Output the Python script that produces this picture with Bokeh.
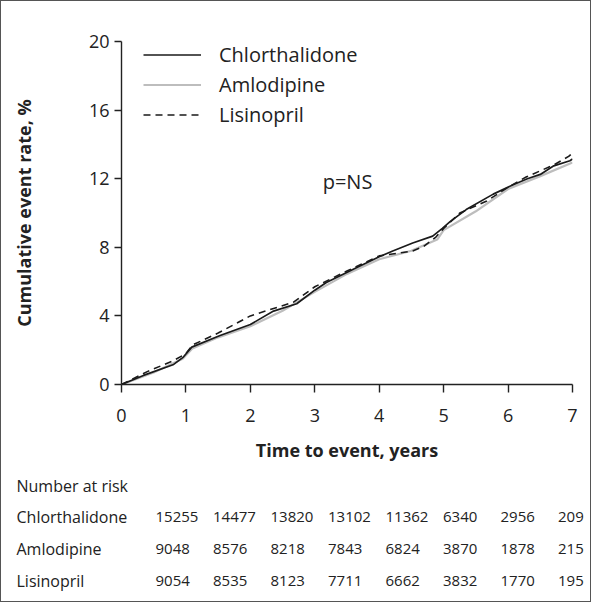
from bokeh.plotting import figure
from bokeh.layouts import column
from bokeh.models import Range1d, FixedTicker, Label, Legend, LegendItem, ColumnDataSource
from bokeh.core.properties import value
from bokeh.embed import file_html
from bokeh.resources import INLINE

# ---------------- data ----------------
years_ticks = [0, 1, 2, 3, 4, 5, 6, 7]
rate_ticks = [0, 4, 8, 12, 16, 20]

chlor_t = [0, 0.34, 0.81, 0.96, 1.09, 1.53, 2.0, 2.36, 2.72, 3.0, 3.18, 3.59, 4.0, 4.21,
           4.52, 4.83, 4.98, 5.1, 5.35, 5.77, 6.08, 6.3, 6.5, 6.71, 6.96, 7.0]
chlor_y = [0, 0.53, 1.17, 1.6, 2.18, 2.86, 3.5, 4.28, 4.71, 5.5, 5.95, 6.7, 7.45, 7.78,
           8.25, 8.65, 9.1, 9.5, 10.2, 11.1, 11.65, 12.0, 12.25, 12.75, 13.05, 13.15]

amlo_t = [0, 0.5, 0.95, 1.1, 1.5, 2.0, 2.5, 3.0, 3.5, 4.0, 4.5, 4.9, 5.0, 5.5, 6.0, 6.5, 7.0]
amlo_y = [0, 0.7, 1.5, 2.1, 2.75, 3.4, 4.3, 5.4, 6.45, 7.3, 7.8, 8.45, 9.0, 10.1, 11.4, 12.15, 12.95]

lisi_t = [0, 0.4, 0.81, 1.0, 1.1, 1.5, 2.0, 2.67, 3.0, 3.49, 4.0, 4.52, 4.69, 4.88, 5.0,
          5.25, 5.67, 6.0, 6.28, 6.71, 6.94, 7.0]
lisi_y = [0, 0.75, 1.4, 1.8, 2.3, 3.0, 4.0, 4.8, 5.7, 6.6, 7.5, 7.78, 8.05, 8.6, 9.1,
          10.0, 10.7, 11.5, 12.1, 12.8, 13.3, 13.5]

groups = ["Chlorthalidone", "Amlodipine", "Lisinopril"]
risk_title = "Number at risk"
risk_chlor = [15255, 14477, 13820, 13102, 11362, 6340, 2956, 209]
risk_amlo = [9048, 8576, 8218, 7843, 6824, 3870, 1878, 215]
risk_lisi = [9054, 8535, 8123, 7711, 6662, 3832, 1770, 195]

# ---------------- layout ----------------
FONT = "Open Sans"
TXT = "#222222"
W, H = 589, 470
BL, BR, BT, BB = 120, 18, 40, 87
FW, FH = W - BL - BR, H - BT - BB
X0, X1, Y0, Y1 = 0, 7, 0, 20


def dx(px):  # canvas px -> data x
    return X0 + (px - BL) / FW * (X1 - X0)


def dy(py):  # canvas px (from top) -> data y
    return Y0 + (BT + FH - py) / FH * (Y1 - Y0)


p = figure(width=W, height=H, output_backend="svg", toolbar_location=None,
           x_range=Range1d(X0, X1), y_range=Range1d(Y0, Y1),
           min_border_left=BL, min_border_right=BR, min_border_top=BT, min_border_bottom=BB)
p.outline_line_color = None
p.grid.visible = False

for ax in (p.xaxis[0], p.yaxis[0]):
    ax.axis_line_color = "#222222"
    ax.axis_line_width = 1.4
    ax.major_tick_line_color = "#222222"
    ax.major_tick_line_width = 1.4
    ax.major_tick_in = 0
    ax.minor_tick_line_color = None
    ax.major_label_text_font = FONT
    ax.major_label_text_font_size = "18px"
    ax.major_label_text_color = TXT
    ax.axis_label_text_font = FONT
    ax.axis_label_text_font_size = "18px"
    ax.axis_label_text_font_style = "bold"
    ax.axis_label_text_color = TXT

p.xaxis.ticker = FixedTicker(ticks=years_ticks)
p.xaxis.major_tick_out = 8
p.xaxis.major_label_standoff = 16
p.xaxis.axis_label = "Time to event, years"
p.xaxis.axis_label_standoff = 13

p.yaxis.ticker = FixedTicker(ticks=rate_ticks)
p.yaxis.major_tick_out = 7
p.yaxis.major_label_standoff = 5
p.yaxis.axis_label = "Cumulative event rate, %"
p.yaxis.axis_label_standoff = 50

r_amlo = p.line(amlo_t, amlo_y, line_color="#bdbdbd", line_width=2.2)
r_chlor = p.line(chlor_t, chlor_y, line_color="#1a1a1a", line_width=1.7)
r_lisi = p.line(lisi_t, lisi_y, line_color="#1a1a1a", line_width=1.6, line_dash="7 5")

LEG_ROW, LEG_SP = 27, 3
legend = Legend(items=[LegendItem(label=groups[0], renderers=[r_chlor]),
                       LegendItem(label=groups[1], renderers=[r_amlo]),
                       LegendItem(label=groups[2], renderers=[r_lisi])],
                location=(22, FH - 3 * LEG_ROW - 2 * LEG_SP), orientation="vertical",
                glyph_width=58, glyph_height=LEG_ROW, label_height=LEG_ROW, label_standoff=18,
                spacing=LEG_SP, padding=0, margin=0, border_line_color=None,
                background_fill_alpha=0, label_text_font=FONT,
                label_text_font_size="20px", label_text_color=TXT)
p.add_layout(legend)

p.add_layout(Label(x=dx(346), y=dy(180), text="p=NS", text_align="center",
                   text_baseline="middle", text_font=FONT, text_font_size="20px",
                   text_color=TXT))

# ---------------- number-at-risk table ----------------
TW, TH = W, 130
t = figure(width=TW, height=TH, output_backend="svg", toolbar_location=None,
           x_range=Range1d(0, TW), y_range=Range1d(TH, 0),
           min_border_left=0, min_border_right=0, min_border_top=0, min_border_bottom=0)
t.frame_align = False
t.axis.visible = False
t.grid.visible = False
t.outline_line_color = None

NAME_X, COL0_X, COL_DX = 15, 154, 57.5
ROW0_Y, ROW_DY = 14, 32

t.text(x=[NAME_X], y=[ROW0_Y], text=[risk_title], text_align="left", text_baseline="middle",
       text_font=value(FONT), text_font_size="16px", text_color=TXT)

rows = [risk_chlor, risk_amlo, risk_lisi]
for k, (name, vals) in enumerate(zip(groups, rows)):
    ry = ROW0_Y + ROW_DY * (k + 1) - 1
    t.text(x=[NAME_X], y=[ry], text=[name], text_align="left", text_baseline="middle",
           text_font=value(FONT), text_font_size="16px", text_color=TXT)
    src = ColumnDataSource(dict(x=[COL0_X + COL_DX * i for i in range(len(vals))],
                                y=[ry] * len(vals), t=[str(v) for v in vals]))
    t.text(x="x", y="y", text="t", source=src, text_align="left", text_baseline="middle",
           text_font=value(FONT), text_font_size="15px", text_color=TXT)

layout = column(p, t, styles={"border": "1px solid #555555"})
open("out.html", "w").write(file_html(layout, INLINE))
